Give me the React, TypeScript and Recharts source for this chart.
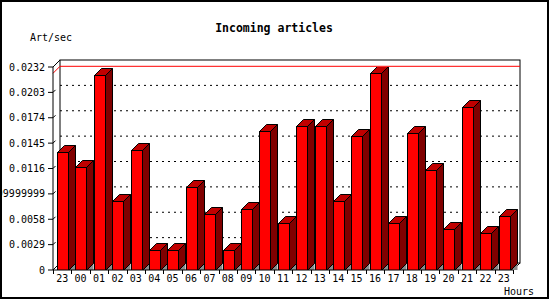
import React from 'react';
import { BarChart, Bar, XAxis, YAxis, ReferenceLine, ReferenceArea } from 'recharts';

// hour of day for each bar (first and last are both 23)
const hours = ['23', '00', '01', '02', '03', '04', '05', '06', '07', '08', '09', '10', '11', '12', '13', '14', '15', '16', '17', '18', '19', '20', '21', '22', '23'];

// incoming articles per second
const artPerSec = [
  0.01345, 0.01174, 0.02229, 0.00785, 0.01371, 0.00225, 0.00225, 0.00952, 0.0064, 0.00225,
  0.00693, 0.01589, 0.00533, 0.01642, 0.01642, 0.00785, 0.01528, 0.02248, 0.00533, 0.01562,
  0.01139, 0.00472, 0.01859, 0.00419, 0.00617,
];

const yTicks = [0, 0.0029, 0.0058, 0.0087, 0.0116, 0.0145, 0.0174, 0.0203, 0.0232];
const yTickLabels = ['0', '0.0029', '0.0058', '0.0086999999999', '0.0116', '0.0145', '0.0174', '0.0203', '0.0232'];

const data = hours.map((hour, i) => ({ slot: i, hour, value: artPerSec[i] }));
const maxValue = Math.max(...artPerSec);
const yMax = yTicks[yTicks.length - 1];

const DEPTH = 7;
const FONT = '"DejaVu Sans Mono", monospace';

const Bar3D = (props: any) => {
  const { x, y, width, height } = props;
  const d = DEPTH;
  const l = Math.round(x) + 0.5;
  const r = Math.round(x + width) + 0.5;
  const t = Math.round(y) + 0.5;
  const b = Math.round(y + height) + 0.5;
  return (
    <g>
      <polygon points={`${r},${b} ${r + d},${b - d} ${r + d},${b}`} fill="#8c8c8c" />
      <polygon points={`${r},${t} ${r + d},${t - d} ${r + d},${b - d} ${r},${b}`} fill="#800000" stroke="#000" />
      <polygon points={`${l},${t} ${l + d},${t - d} ${r + d},${t - d} ${r},${t}`} fill="#c00000" stroke="#000" />
      <rect x={l} y={t} width={r - l} height={b - t} fill="#ff0000" stroke="#000" />
    </g>
  );
};

const BackWall = (props: any) => {
  const { x, y, width, height } = props;
  const d = DEPTH;
  return (
    <g stroke="#000" fill="none">
      <rect x={x + d} y={y - d} width={width} height={height} fill="#fff" />
      <line x1={x} y1={y} x2={x + d} y2={y - d} />
      <line x1={x} y1={y + height} x2={x + d} y2={y + height - d} />
      <line x1={x + width} y1={y + height} x2={x + width + d} y2={y + height - d} />
    </g>
  );
};

const GridLine3D = (props: any) => {
  const { x1, y1, x2, y2 } = props;
  const d = DEPTH;
  return (
    <g stroke="#000" fill="none">
      <line x1={x1} y1={y1} x2={x1 + 2.5} y2={y1 - 2.5} />
      <line x1={x1 + d} y1={y1 - d} x2={x2 + d} y2={y2 - d} strokeDasharray="2 4" />
    </g>
  );
};

const MaxLine3D = (props: any) => {
  const { x1, y1, x2, y2 } = props;
  const d = DEPTH;
  return (
    <g stroke="#ff0000" fill="none">
      <line x1={x1} y1={y1} x2={x1 + d} y2={y1 - d} />
      <line x1={x1 + d} y1={y1 - d} x2={x2 + d} y2={y2 - d} />
    </g>
  );
};

// hour label centred in its slot, tick marks on the slot edges
const HourTick = (props: any) => {
  const { x, y, payload, index } = props;
  const half = payload?.offset ?? 9.2;
  const axisY = y - 5;
  const left = Math.round(x - half) + 0.5;
  const right = Math.round(x + half) + 0.5;
  return (
    <g>
      <line x1={left} y1={axisY} x2={left} y2={axisY + 4} stroke="#000" />
      {index === hours.length - 1 && <line x1={right} y1={axisY} x2={right} y2={axisY + 4} stroke="#000" />}
      <text x={x} y={y} dy="0.71em" textAnchor="middle" fontSize={10} fontFamily={FONT} fill="#000">
        {hours[payload.value]}
      </text>
    </g>
  );
};

export default function App() {
  return (
    <div style={{ position: 'absolute', left: 0, top: 0, width: 550, height: 300, background: '#fff' }}>
      <BarChart width={550} height={300} data={data} margin={{ top: 67, right: 37, bottom: 0, left: 0 }}>
        <XAxis
          dataKey="slot"
          type="category"
          height={30}
          interval={0}
          tickLine={false}
          tickSize={3}
          tickMargin={2}
          stroke="#000"
          tick={HourTick}
        />
        <YAxis
          type="number"
          domain={[0, yMax]}
          ticks={yTicks}
          allowDataOverflow
          interval={0}
          width={53}
          tickSize={5}
          tickMargin={3}
          stroke="#000"
          tickFormatter={(v: number) => yTickLabels[yTicks.indexOf(v)] ?? String(v)}
          tick={{ fontSize: 10, fill: '#000', fontFamily: FONT }}
        />
        <ReferenceArea y1={0} y2={yMax} shape={BackWall} ifOverflow="visible" zIndex={-80} />
        {yTicks.slice(1, -1).map((v) => (
          <ReferenceLine key={v} y={v} shape={GridLine3D} ifOverflow="visible" zIndex={-70} />
        ))}
        <ReferenceLine y={maxValue} shape={MaxLine3D} ifOverflow="visible" zIndex={-60} />
        <Bar dataKey="value" barSize={11} shape={Bar3D} isAnimationActive={false} />
      </BarChart>
      <svg width={550} height={300} style={{ position: 'absolute', left: 0, top: 0, pointerEvents: 'none' }}>
        <text x={274} y={32} textAnchor="middle" fontFamily={FONT} fontWeight="bold" fontSize={11.5} fill="#000">
          Incoming articles
        </text>
        <text x={30} y={41} fontFamily={FONT} fontSize={10} fill="#000">
          Art/sec
        </text>
        <text x={504} y={295} fontFamily={FONT} fontSize={10} fill="#000">
          Hours
        </text>
        <rect x={1} y={1} width={547} height={297} fill="none" stroke="#000" strokeWidth={2} />
      </svg>
    </div>
  );
}
